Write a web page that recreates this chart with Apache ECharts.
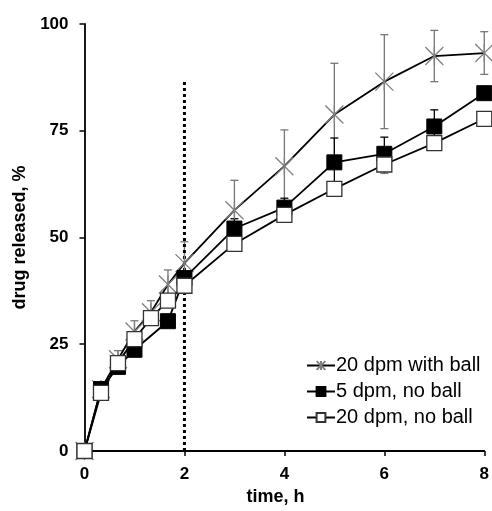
<!DOCTYPE html>
<html>
<head>
<meta charset="utf-8">
<script src="https://cdn.jsdelivr.net/npm/echarts@6/dist/echarts.min.js"></script>
<style>html,body{margin:0;padding:0;background:#fff}#c{width:492px;height:511px}</style>
</head>
<body>
<div id="c"></div>
<script>
var times = [0, 0.33, 0.67, 1, 1.33, 1.67, 2, 3, 4, 5, 6, 7, 8];
var withBall = [0, 14.5, 21.5, 28, 32.5, 39, 44, 56.4, 66.7, 78.8, 86.5, 92.5, 93.2];
var withBallErr = [0, 1, 2, 2.5, 2.7, 3.4, 5, 7, 8.5, 12, 11, 6, 5];
var slowNoBall = [0, 14.5, 19.7, 23.7, null, 30.4, 40.5, 52.1, 57, 67.6, 69.6, 76, 83.8];
var slowNoBallErr = [0, 0, 0.5, 0.5, null, 1, 1, 2.3, 2.2, 5.7, 3.9, 3.9, 1.2];
var fastNoBall = [0, 13.6, 20.6, 26.2, 31.1, 35.2, 38.7, 48.5, 55.3, 61.4, 67.1, 72.1, 77.8];
var fastNoBallErr = [0, 0.5, 0.5, 0.5, 0.5, 0.5, 0.5, 1, 1, 1.5, 2.1, 1.5, 1.5];
var seriesNames = ['20 dpm with ball', '5 dpm, no ball', '20 dpm, no ball'];
var yTicks = [0, 25, 50, 75, 100];
var xTicks = [0, 2, 4, 6, 8];
var markerTime = 2;
var markerTop = 87;

var FONT = '"Liberation Sans", Arial, sans-serif';
function pairs(vals) {
  var out = [];
  for (var i = 0; i < times.length; i++) out.push([times[i], vals[i]]);
  return out;
}
function errData(vals, errs) {
  var out = [];
  for (var i = 0; i < times.length; i++) {
    if (vals[i] != null && errs[i] != null && errs[i] > 0) out.push([times[i], vals[i], errs[i]]);
  }
  return out;
}
function errSeries(vals, errs, color) {
  return {
    type: 'custom', z: 1, silent: true,
    data: errData(vals, errs),
    renderItem: function (params, api) {
      var x = api.value(0), y = api.value(1), e = api.value(2);
      var top = api.coord([x, y + e]);
      var bot = api.coord([x, y - e]);
      var hw = 4;
      var st = {stroke: color, lineWidth: 1.3};
      return {type: 'group', children: [
        {type: 'line', shape: {x1: top[0], y1: top[1], x2: bot[0], y2: bot[1]}, style: st},
        {type: 'line', shape: {x1: top[0] - hw, y1: top[1], x2: top[0] + hw, y2: top[1]}, style: st},
        {type: 'line', shape: {x1: bot[0] - hw, y1: bot[1], x2: bot[0] + hw, y2: bot[1]}, style: st}
      ]};
    }
  };
}

var chart = echarts.init(document.getElementById('c'));
chart.setOption({
  animation: false,
  backgroundColor: '#fff',
  textStyle: {fontFamily: FONT},
  grid: {left: 84.5, right: 3.5, top: 24, bottom: 58.3, containLabel: false},
  xAxis: {
    type: 'value', min: xTicks[0], max: xTicks[xTicks.length - 1], interval: 2,
    name: 'time, h', nameLocation: 'middle', nameGap: 37,
    nameTextStyle: {fontFamily: FONT, fontWeight: 'bold', fontSize: 18, color: '#000', padding: [0, 18, 0, 0]},
    axisLine: {lineStyle: {color: '#000', width: 1.8}},
    axisTick: {show: true, length: 5, lineStyle: {color: '#000', width: 1.5}},
    axisLabel: {fontFamily: FONT, fontWeight: 'bold', fontSize: 17, color: '#000', margin: 15},
    splitLine: {show: false}
  },
  yAxis: {
    type: 'value', min: yTicks[0], max: yTicks[yTicks.length - 1], interval: 25,
    name: 'drug released, %', nameLocation: 'middle', nameGap: 52, nameRotate: 90,
    nameTextStyle: {fontFamily: FONT, fontWeight: 'bold', fontSize: 18, color: '#000'},
    axisLine: {show: true, lineStyle: {color: '#000', width: 1.8}},
    axisTick: {show: true, length: 5, lineStyle: {color: '#000', width: 1.5}},
    axisLabel: {fontFamily: FONT, fontWeight: 'bold', fontSize: 17, color: '#000', margin: 16},
    splitLine: {show: false}
  },
  legend: {
    orient: 'vertical', left: 306, top: 355, padding: 0,
    data: seriesNames,
    itemWidth: 28, itemHeight: 11, itemGap: 5,
    textStyle: {fontFamily: FONT, fontSize: 20, color: '#000', lineHeight: 21, padding: [0, 0, 0, -4]}
  },
  series: [
    errSeries(withBall, withBallErr, '#777'),
    errSeries(slowNoBall, slowNoBallErr, '#000'),
    errSeries(fastNoBall, fastNoBallErr, '#777'),
    {
      type: 'line', silent: true, z: 1,
      data: [[markerTime, 0], [markerTime, markerTop]],
      symbol: 'none',
      lineStyle: {color: '#000', width: 3, type: [3, 3]}
    },
    {
      name: seriesNames[0], type: 'line', data: pairs(withBall), z: 2,
      symbol: 'path://M0,0L20,20M20,0L0,20M10,0L10,20', symbolSize: 18,
      itemStyle: {color: 'rgba(0,0,0,0)', borderColor: '#808080', borderWidth: 1.3},
      lineStyle: {color: '#000', width: 1.8}
    },
    {
      name: seriesNames[1], type: 'line', data: pairs(slowNoBall), z: 3, connectNulls: true,
      symbol: 'rect', symbolSize: 15,
      itemStyle: {color: '#000', borderColor: '#000', borderWidth: 1},
      lineStyle: {color: '#000', width: 1.8}
    },
    {
      name: seriesNames[2], type: 'line', data: pairs(fastNoBall), z: 4,
      symbol: 'rect', symbolSize: 15,
      itemStyle: {color: '#fff', borderColor: '#333', borderWidth: 1.3},
      lineStyle: {color: '#000', width: 1.8}
    }
  ]
});
</script>
</body>
</html>
